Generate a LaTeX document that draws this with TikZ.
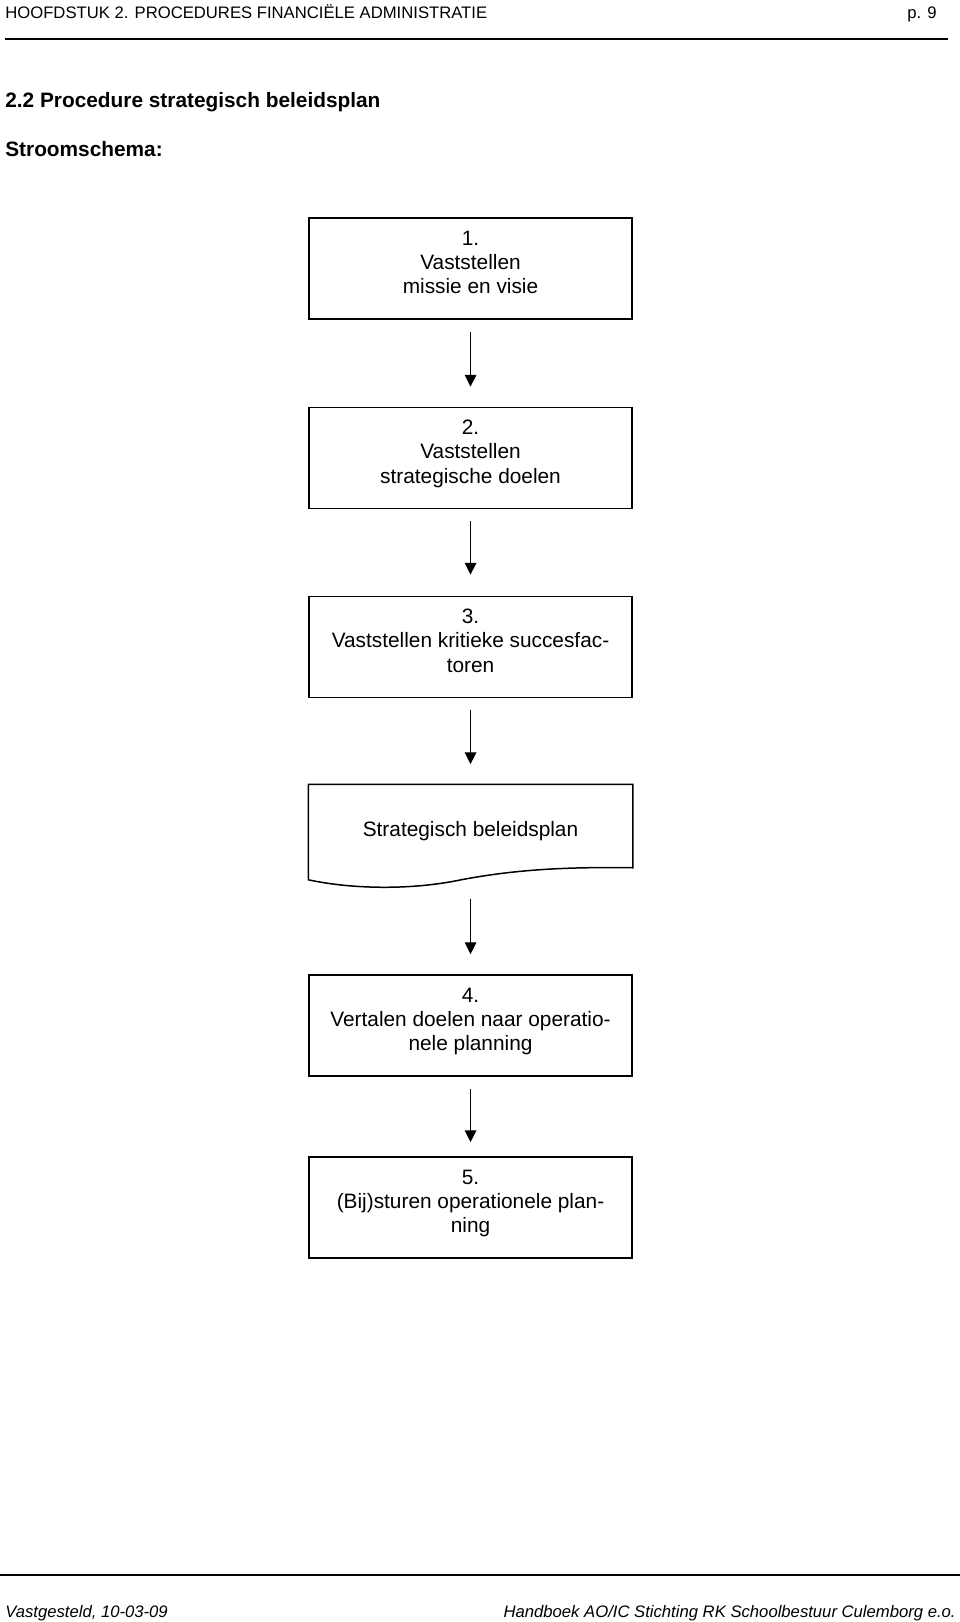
\documentclass[tikz,border=0pt]{standalone}
\usepackage{fontspec}
\setmainfont{Liberation Sans}
\usetikzlibrary{positioning,arrows.meta,calc}

\begin{document}
\begin{tikzpicture}[
  x=0.6pt, y=-0.6pt,
  >={Triangle[length=7.2pt,width=7pt]},
  stap/.style={rectangle, draw, line width=0.9pt, minimum width=193.8pt,
    minimum height=60.6pt, inner sep=0pt, align=center,
    font=\fontsize{12.5}{14.5}\selectfont,
    execute at end node={\rule[-7.6pt]{0pt}{0pt}}},
  pijl/.style={->, line width=0.75pt, shorten <=7.2pt},
  kop/.style={font=\fontsize{10}{12}\selectfont, inner sep=0pt},
  titel/.style={font=\fontsize{12.5}{15}\selectfont\bfseries, inner sep=0pt, anchor=base west}
]
\useasboundingbox (0,0) rectangle (960,1622);

% -----------------------
% Layout parameters
% -----------------------
\def\xm{470.5}

% box centres (top to bottom)
\def\yA{268.5}   % stap 1
\def\yB{458}     % stap 2
\def\yC{647}     % stap 3
\def\yD{835.5}   % document
\def\yE{1025.5}  % stap 4
\def\yF{1207.5}  % stap 5

% -----------------------
% Page header
% -----------------------
\node[kop, anchor=base west] (kop) at (5,18.7) {HOOFDSTUK 2. PROCEDURES FINANCIËLE ADMINISTRATIE};
\node[kop, anchor=base east] (pagina) at (937,18.7) {p. 9};
\draw[line width=1.2pt] (5,39) -- (948,39);

\node[titel] (titel) at (5,107.3) {2.2 Procedure strategisch beleidsplan};
\node[titel] (schema) at (5,156.2) {Stroomschema:};

% -----------------------
% Steps
% -----------------------
\node[stap] (s1) at (\xm,\yA) {1.\\Vaststellen\\missie en visie};
\node[stap] (s2) at (\xm,\yB) {2.\\Vaststellen\\strategische doelen};
\node[stap] (s3) at (\xm,\yC) {3.\\Vaststellen kritieke succesfac-\\toren};

% document shape
\node[stap, draw=none] (plan) at (\xm,\yD) {Strategisch beleidsplan};
\draw[line width=0.9pt] ($(plan.south west)+(0,-7)$) -- (plan.north west)
  -- (plan.north east) -- ($(plan.south east)+(0,-19)$)
  .. controls ($(plan.south west)+(256,-20)$) and ($(plan.south west)+(206,-17)$) .. ($(plan.south west)+(153,-7)$)
  .. controls ($(plan.south west)+(101,4)$) and ($(plan.south west)+(41,2)$) .. ($(plan.south west)+(0,-7)$)
  -- cycle;

\node[stap] (s4) at (\xm,\yE) {4.\\Vertalen doelen naar operatio-\\nele planning};
\node[stap] (s5) at (\xm,\yF) {5.\\(Bij)sturen operationele plan-\\ning};

% -----------------------
% Arrows
% -----------------------
\draw[pijl, shorten >=12pt] (s1) -- (s2);
\draw[pijl, shorten >=12.6pt] (s2) -- (s3);
\draw[pijl, shorten >=12pt] (s3) -- (plan);
\draw[pijl, shorten >=12pt] (plan) -- (s4);
\draw[pijl, shorten >=8.4pt] (s4) -- (s5);

% -----------------------
% Page footer
% -----------------------
\draw[line width=0.8pt] (0,1575) -- (960,1575);
\node[kop, anchor=base west, font=\fontsize{10}{12}\selectfont\itshape] (voetlinks) at (5,1617.5) {Vastgesteld, 10-03-09};
\node[kop, anchor=base east, font=\fontsize{10}{12}\selectfont\itshape] (voetrechts) at (956,1617.5) {Handboek AO/IC Stichting RK Schoolbestuur Culemborg e.o.};

\end{tikzpicture}
\end{document}
